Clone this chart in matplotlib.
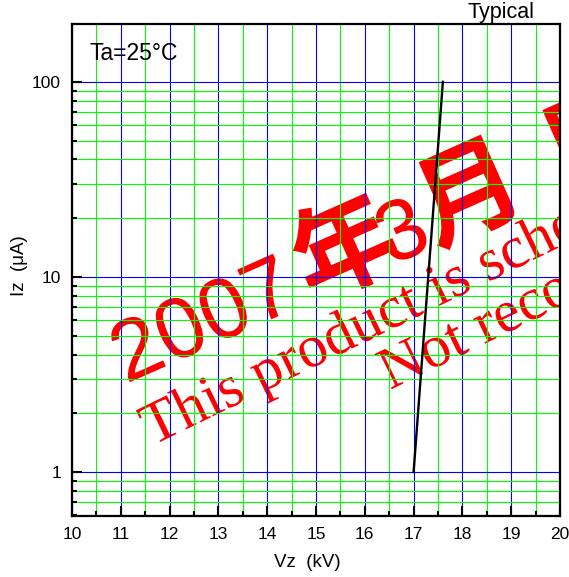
import matplotlib
matplotlib.use("Agg")
import matplotlib.pyplot as plt
from matplotlib.ticker import FixedLocator, LogLocator, NullFormatter, FixedFormatter
from matplotlib.textpath import TextPath, text_to_path
from matplotlib.font_manager import FontProperties
from matplotlib.patches import PathPatch
from matplotlib.transforms import Affine2D

# Zener current vs. zener voltage, typical curve at Ta = 25 °C
vz_kv = [17.0, 17.3, 17.6]
iz_ua = [1.0, 10.0, 100.0]

x_major = list(range(10, 21))
x_minor = [v + 0.5 for v in range(10, 20)]
y_major = [1, 10, 100]
y_major_labels = ["1", "10", "100"]

W, H, DPI = 569, 577, 100
fig = plt.figure(figsize=(W / DPI, H / DPI), dpi=DPI)
plt.rcParams["font.family"] = ["Liberation Sans", "DejaVu Sans"]

ax = fig.add_axes([72 / W, 1 - 516 / H, (560 - 72) / W, (516 - 24) / H])
ax.set_xlim(10, 20)
ax.set_yscale("log")
ax.set_ylim(0.595, 198)

ax.xaxis.set_major_locator(FixedLocator(x_major))
ax.xaxis.set_minor_locator(FixedLocator(x_minor))
ax.yaxis.set_major_locator(FixedLocator(y_major))
ax.yaxis.set_major_formatter(FixedFormatter(y_major_labels))
ax.yaxis.set_minor_locator(LogLocator(base=10, subs=[2, 3, 4, 5, 6, 7, 8, 9]))
ax.yaxis.set_minor_formatter(NullFormatter())

ax.set_axisbelow(True)
ax.grid(which="major", color="#0000ff", linewidth=0.8)
ax.grid(which="minor", color="#00ff00", linewidth=0.8)

ax.tick_params(which="both", direction="in", top=False, right=False,
               labelsize=12.5, width=1.5, color="black")
ax.tick_params(which="major", length=7, pad=8)
ax.tick_params(which="minor", length=3.5)
for s in ax.spines.values():
    s.set_linewidth(1.6)
    s.set_color("black")

ax.plot(vz_kv, iz_ua, color="black", linewidth=1.7, zorder=5)

ax.set_xlabel("Vz  (kV)", fontsize=13.5)
ax.set_ylabel("Iz  (\u03bcA)", fontsize=13.5)
ax.xaxis.set_label_coords((307 - 72) / 488, (516 - 554) / 492)
ax.yaxis.set_label_coords((28 - 72) / 488, (516 - 266) / 492)

fig.text(89 / W, 1 - 60 / H, "Ta=25\u00b0C", fontsize=16.5, ha="left", va="baseline")
fig.text(534 / W, 1 - 18 / H, "Typical", fontsize=15.5, ha="right", va="baseline")

# red discontinuation stamp, drawn as outlines and clipped to the plotting area
RED = "#ff0000"
sans = FontProperties(family="Liberation Sans")
cjk = FontProperties(family="Noto Sans CJK JP", weight="bold")
serif = FontProperties(family="Liberation Serif")


def stamp(pieces, start, angle):
    """pieces: (text, font, size_pt, gap_before_pt) laid out along one baseline."""
    sx, sy = start
    advance = 0.0
    for text, prop, size, gap in pieces:
        advance += gap
        p = prop.copy()
        p.set_size(size)
        path = TextPath((advance, 0), text, size=size, prop=prop)
        w, _, _ = text_to_path.get_text_width_height_descent(text, p, ismath=False)
        advance += w
        tr = Affine2D().scale(DPI / 72).rotate_deg(angle).translate(sx, H - sy)
        patch = PathPatch(path, transform=tr, facecolor=RED, edgecolor="none",
                          zorder=0.3)
        ax.add_artist(patch)
        patch.set_clip_path(ax.patch)


stamp([("2007", sans, 62, 0), ("年", cjk, 75, 8), ("3", sans, 62, -12),
       ("月", cjk, 75, 0), ("廃止予定", cjk, 75, 28)], (126, 384), 24)
stamp([("This product is scheduled to be discontinued.", serif, 43, 0)], (152, 446), 26)
stamp([("Not recommended for new designs.", serif, 43, 0)], (390, 390), 26)

fig.savefig("out.png", dpi=DPI)
